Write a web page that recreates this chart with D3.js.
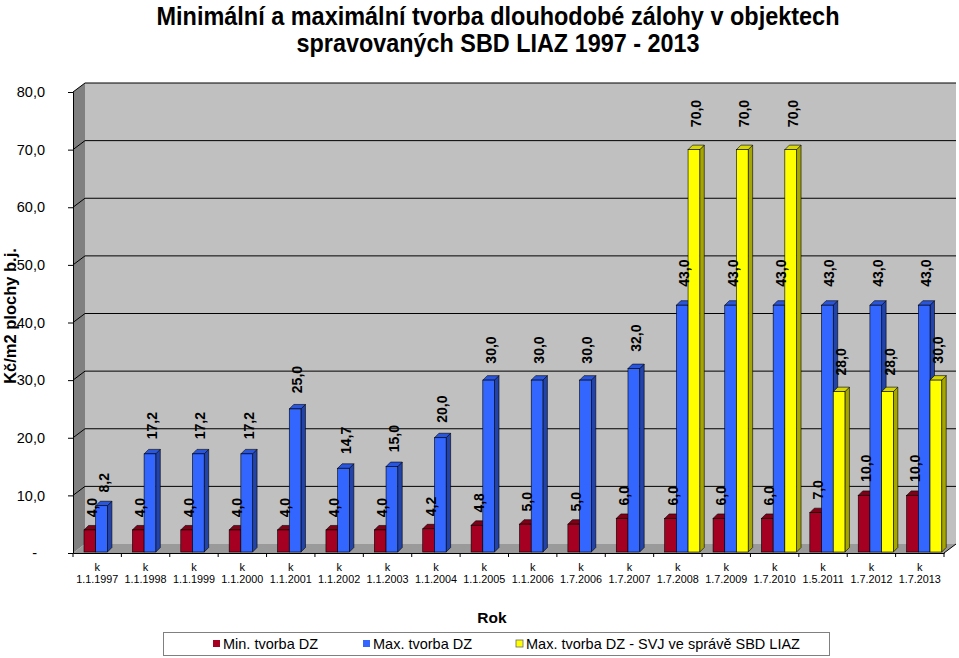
<!DOCTYPE html>
<html><head><meta charset="utf-8">
<script src="https://cdn.jsdelivr.net/npm/d3@7"></script>
<style>
body{margin:0;background:#fff;}
text{font-family:"Liberation Sans",Arial,sans-serif;}
</style></head>
<body><svg id="c" width="959" height="658"></svg>
<script>
const categories=["1.1.1997","1.1.1998","1.1.1999","1.1.2000","1.1.2001","1.1.2002","1.1.2003","1.1.2004","1.1.2005","1.1.2006","1.7.2006","1.7.2007","1.7.2008","1.7.2009","1.7.2010","1.5.2011","1.7.2012","1.7.2013"];
const minDZ=[4.0,4.0,4.0,4.0,4.0,4.0,4.0,4.2,4.8,5.0,5.0,6.0,6.0,6.0,6.0,7.0,10.0,10.0];
const maxDZ=[8.2,17.2,17.2,17.2,25.0,14.7,15.0,20.0,30.0,30.0,30.0,32.0,43.0,43.0,43.0,43.0,43.0,43.0];
const maxSVJ=[null,null,null,null,null,null,null,null,null,null,null,null,70.0,70.0,70.0,28.0,28.0,30.0];
const seriesNames=["Min. tvorba DZ","Max. tvorba DZ","Max. tvorba DZ - SVJ ve správě SBD LIAZ"];
const yTicks=[0,10,20,30,40,50,60,70,80];
const titleLines=["Minimální a maximální tvorba dlouhodobé zálohy v objektech","spravovaných SBD LIAZ 1997 - 2013"];

const series=[minDZ,maxDZ,maxSVJ];
const colors=[{f:"#A50021",s:"#66000f",t:"#800018"},{f:"#3366FF",s:"#2244aa",t:"#2a55dd"},{f:"#FFFF00",s:"#a6a600",t:"#d9d900"}];

const svg=d3.select("#c");
const x0=73,x1=944,DX=12,DY=-9;
const y=d3.scaleLinear().domain([0,80]).range([553,92]);
const x=d3.scaleBand().domain(categories).range([x0,x1]);
const fmt=v=>d3.format(".1f")(v).replace(".",",");

// title
svg.append("text").attr("x",498).attr("y",25).attr("text-anchor","middle").attr("font-size",25).attr("font-weight","bold")
 .attr("textLength",683).attr("lengthAdjust","spacingAndGlyphs").text(titleLines[0]);
svg.append("text").attr("x",498).attr("y",52).attr("text-anchor","middle").attr("font-size",25).attr("font-weight","bold")
 .attr("textLength",403).attr("lengthAdjust","spacingAndGlyphs").text(titleLines[1]);

// walls
const yb=y(0), yt=y(80);
svg.append("path").attr("d",`M${x0},${yt}L${x0+DX},${yt+DY}L${x0+DX},${yb+DY}L${x0},${yb}Z`).attr("fill","#808080");
svg.append("rect").attr("x",x0+DX).attr("y",yt+DY).attr("width",x1-x0).attr("height",yb-yt).attr("fill","#c0c0c0");
svg.append("path").attr("d",`M${x0},${yb}L${x0+DX},${yb+DY}L${x1+DX},${yb+DY}L${x1},${yb}Z`).attr("fill","#9a9a9a");
// gridlines
yTicks.filter(v=>v>0).forEach(v=>{
  svg.append("path").attr("d",`M${x0},${y(v)}L${x0+DX},${y(v)+DY}L${x1+DX},${y(v)+DY}`).attr("fill","none").attr("stroke","#000").attr("stroke-width",1);
});
// y axis
const yAxis=d3.axisLeft(y).tickValues(yTicks).tickSize(5).tickFormat(v=>v===0?"-":fmt(v));
const ga=svg.append("g").attr("transform",`translate(${x0},0)`).call(yAxis);
ga.attr("font-size",null).attr("font-family",null);
ga.select(".domain").attr("stroke","#000");
ga.selectAll(".tick line").attr("stroke","#000");
ga.selectAll(".tick text").attr("font-size",14.5).attr("fill","#000").attr("x",-28);
ga.selectAll(".tick text").filter(d=>d===0).attr("x",-36);
svg.append("text").attr("transform","translate(16,316) rotate(-90)").attr("text-anchor","middle").attr("font-size",16.5).attr("font-weight","bold").text("Kč/m2 plochy b.j.");

// x axis
const xAxis=d3.axisBottom(x).tickSize(0).tickFormat("");
const gx=svg.append("g").attr("transform",`translate(0,${yb})`).call(xAxis);
gx.select(".domain").attr("stroke","#000");
svg.append("line").attr("x1",x1).attr("y1",yb).attr("x2",x1+DX).attr("y2",yb+DY).attr("stroke","#000");
categories.concat([null]).forEach((c,i)=>{
  const xx=x0+i*x.bandwidth();
  svg.append("line").attr("x1",xx).attr("x2",xx).attr("y1",yb).attr("y2",yb+4).attr("stroke","#000");
});
categories.forEach(c=>{
  const cx=x(c)+x.bandwidth()/2;
  svg.append("text").attr("x",cx).attr("y",571).attr("text-anchor","middle").attr("font-size",11).attr("fill","#000").text("k");
  svg.append("text").attr("x",cx).attr("y",583).attr("text-anchor","middle").attr("font-size",10.8).attr("fill","#000").text(c);
});
svg.append("text").attr("x",492).attr("y",623).attr("text-anchor","middle").attr("font-size",15.5).attr("font-weight","bold").text("Rok");

// bars
const bw=11.7, bdx=4.5, bdy=-4.5, off=11;
const g=svg.append("g");
categories.forEach((c,ci)=>{
  series.forEach((s,si)=>{
    const v=s[ci]; if(v==null) return;
    const bx=x(c)+off+si*bw, top=y(v), bot=yb-1;
    const col=colors[si];
    g.append("path").attr("d",`M${bx+bw},${top}L${bx+bw+bdx},${top+bdy}L${bx+bw+bdx},${bot+bdy}L${bx+bw},${bot}Z`).attr("fill",col.s).attr("stroke","#000").attr("stroke-width",0.6);
    g.append("path").attr("d",`M${bx},${top}L${bx+bdx},${top+bdy}L${bx+bw+bdx},${top+bdy}L${bx+bw},${top}Z`).attr("fill",col.t).attr("stroke","#000").attr("stroke-width",0.6);
    g.append("rect").attr("x",bx).attr("y",top).attr("width",bw).attr("height",bot-top).attr("fill",col.f).attr("stroke","#000").attr("stroke-width",0.6);
  });
});
// labels
categories.forEach((c,ci)=>{
  series.forEach((s,si)=>{
    const v=s[ci]; if(v==null) return;
    const bx=x(c)+off+si*bw+bw/2+2;
    const ly=y(v)-(12+v*0.15);
    svg.append("text").attr("transform",`translate(${bx},${ly}) rotate(-90)`).attr("dy","0.36em")
      .attr("font-size",14).attr("font-weight","bold").text(fmt(v));
  });
});

// legend
svg.append("rect").attr("x",163.5).attr("y",632.5).attr("width",666).attr("height",23).attr("fill","#fff").attr("stroke","#808080");
const lx=[213,363,516];
seriesNames.forEach((n,i)=>{
  svg.append("rect").attr("x",lx[i]).attr("y",640).attr("width",7).attr("height",7).attr("fill",colors[i].f).attr("stroke",i===2?"#666":"none").attr("stroke-width",0.8);
  svg.append("text").attr("x",lx[i]+10).attr("y",649).attr("font-size",14.5).text(n);
});
</script></body></html>
